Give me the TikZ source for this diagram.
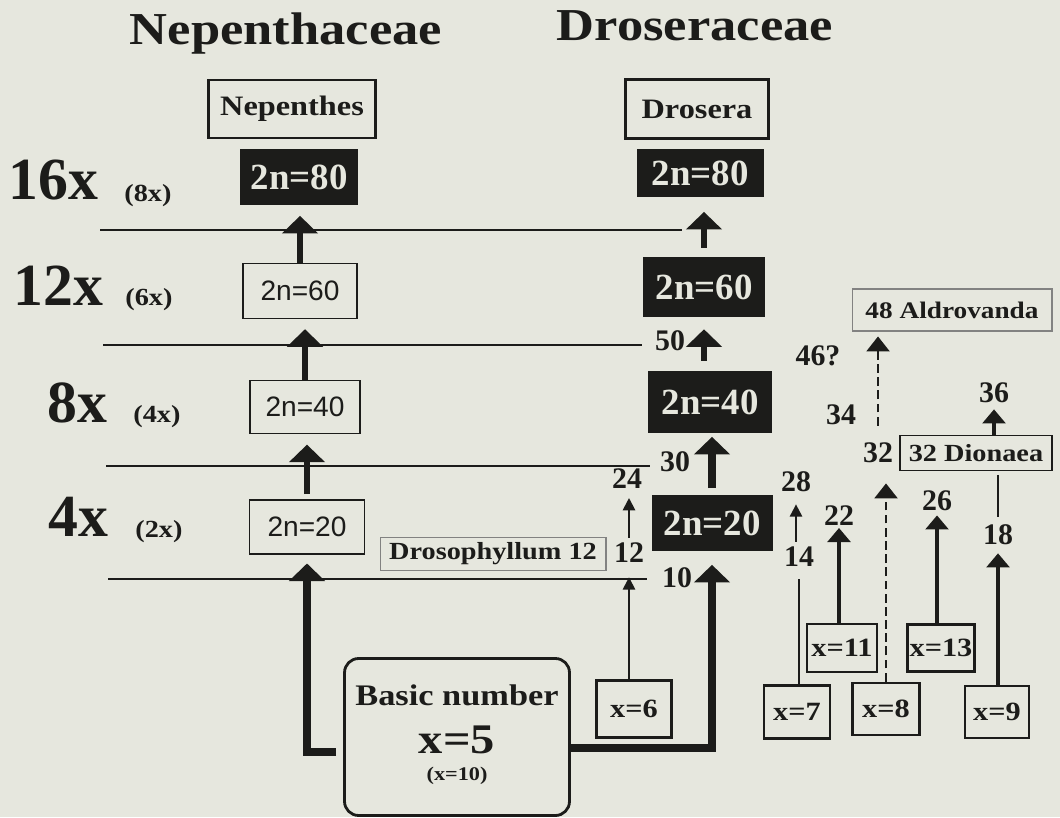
\documentclass[tikz,border=0pt]{standalone}
\usepackage{fontspec}
\setmainfont{Liberation Serif}
\setsansfont{Liberation Sans}
\newfontfamily\widefont{Liberation Serif}[FakeStretch=1.15]
\usepackage{tikz}
\usetikzlibrary{arrows.meta, positioning, calc}
\definecolor{paper}{RGB}{230,231,222}
\definecolor{ink}{RGB}{28,28,26}
\colorlet{boxblk}{ink}

\begin{document}
\begin{tikzpicture}[x=0.02cm, y=-0.02cm, color=ink, line join=miter,
  famtitle/.style={font=\widefont\bfseries\fontsize{26}{28}\selectfont, anchor=base, inner sep=0pt},
  lvl/.style={font=\bfseries\fontsize{34}{34}\selectfont, anchor=base west, inner sep=0pt},
  lvlh/.style={font=\widefont\bfseries\fontsize{14}{14}\selectfont, anchor=base west, inner sep=0pt},
  lvline/.style={line width=1.1pt},
  genbox/.style={draw, line width=1.2pt, inner sep=0pt, font=\widefont\bfseries\fontsize{16}{16}\selectfont},
  blkbox/.style={fill=boxblk, text=paper, inner sep=0pt, font=\bfseries\fontsize{21}{21}\selectfont},
  whtbox/.style={draw, line width=0.8pt, inner sep=0pt, font=\sffamily\fontsize{16}{16}\selectfont},
  taxbox/.style={draw=ink!55, line width=0.6pt, inner sep=0pt, font=\widefont\bfseries\fontsize{14}{14}\selectfont},
  xbox/.style={draw, line width=1.6pt, inner sep=0pt, font=\widefont\bfseries\fontsize{15}{15}\selectfont},
  num/.style={inner sep=0pt, font=\bfseries\fontsize{17}{17}\selectfont},
  fatarr/.style={line width=3.2pt, -{Triangle[width=20pt, length=10pt]}},
  fatterarr/.style={line width=4.2pt, -{Triangle[width=20pt, length=10pt]}},
  midarr/.style={line width=1.8pt, -{Triangle[width=13pt, length=8pt]}},
  thinarr/.style={line width=1.1pt, -{Triangle[width=7pt, length=7pt]}},
  dasharr/.style={line width=1.5pt, dash pattern=on 5pt off 2.5pt, -{Triangle[width=13pt, length=8.5pt]}},
]
  \fill[paper] (0,0) rectangle (1060,817);
  \useasboundingbox (0,0) rectangle (1060,817);

  % --- family names
  \node[famtitle] (famN) at (286,45) {Nepenthaceae};
  \node[famtitle] (famD) at (695,41) {Droseraceae};

  % --- ploidy levels
  \node[lvl]  (lv16)  at (8,200)   {16x};
  \node[lvlh] (lv16h) at (124,202) {(8x)};
  \node[lvl]  (lv12)  at (13,305)  {12x};
  \node[lvlh] (lv12h) at (125,305) {(6x)};
  \node[lvl]  (lv8)   at (47,422)  {8x};
  \node[lvlh] (lv8h)  at (133,422) {(4x)};
  \node[lvl]  (lv4)   at (48,536)  {4x};
  \node[lvlh] (lv4h)  at (135,537) {(2x)};

  % --- level lines
  \draw[lvline] (100,230) -- (682,230);
  \draw[lvline] (103,345) -- (642,345);
  \draw[lvline] (106,466) -- (650,466);
  \draw[lvline] (108,579) -- (647,579);

  % --- Nepenthaceae column
  \node[genbox, minimum width=33.4mm, minimum height=11.7mm] (genN) at (292,109) {Nepenthes};
  \node[blkbox, minimum width=23.6mm, minimum height=11.2mm] (nA80) at (299,177) {2n=80};
  \node[whtbox, minimum width=22.8mm, minimum height=11mm]   (nA60) at (300,291) {2n=60};
  \node[whtbox, minimum width=22mm,   minimum height=10.7mm] (nA40) at (305,407) {2n=40};
  \node[whtbox, minimum width=23mm,   minimum height=10.8mm] (nA20) at (307,527) {2n=20};

  % --- Droseraceae column
  \node[genbox, minimum width=28.6mm, minimum height=11.8mm] (genD) at (697,109) {Drosera};
  \node[blkbox, minimum width=25.4mm, minimum height=9.8mm]  (dA80) at (700,173) {2n=80};
  \node[blkbox, minimum width=24.4mm, minimum height=12mm]   (dA60) at (704,287) {2n=60};
  \node[blkbox, minimum width=24.8mm, minimum height=12.4mm] (dA40) at (710,402) {2n=40};
  \node[blkbox, minimum width=24.2mm, minimum height=11.4mm] (dA20) at (712,523) {2n=20};

  % --- other genera
  \node[taxbox, minimum width=45.2mm, minimum height=6.6mm] (drosoph) at (493,554) {Drosophyllum 12};
  \node[taxbox, font=\widefont\bfseries\fontsize{13.5}{14}\selectfont,
        minimum width=40mm, minimum height=8.4mm] (aldro) at (952,310) {48 Aldrovanda};
  \node[taxbox, draw=ink, line width=1pt, minimum width=30.4mm, minimum height=7mm] (dionaea) at (976,453) {32 Dionaea};

  % --- basic numbers
  \node[draw, line width=1.6pt, rounded corners=8pt, minimum width=45mm, minimum height=31.4mm] (basic) at (457,737) {};
  \node[anchor=base, inner sep=0pt, font=\widefont\bfseries\fontsize{17}{17}\selectfont] (basicA) at (457,705) {Basic number};
  \node[anchor=base, inner sep=0pt, font=\widefont\bfseries\fontsize{24}{24}\selectfont] (basicB) at (457,753) {x=5};
  \node[anchor=base, inner sep=0pt, font=\widefont\bfseries\fontsize{11}{11}\selectfont] (basicC) at (457,780) {(x=10)};
  \node[xbox, minimum width=15mm,   minimum height=11.4mm] (x6)  at (634,709) {x=6};
  \node[xbox, minimum width=13.2mm, minimum height=10.6mm] (x7)  at (797,712) {x=7};
  \node[xbox, minimum width=14mm,   minimum height=9.6mm]  (x11) at (842,648) {x=11};
  \node[xbox, minimum width=13.4mm, minimum height=10.4mm] (x8)  at (886,709) {x=8};
  \node[xbox, minimum width=13.4mm, minimum height=9.4mm]  (x13) at (941,648) {x=13};
  \node[xbox, minimum width=12.8mm, minimum height=10.4mm] (x9)  at (997,712) {x=9};
  \coordinate (lfoot) at (336,752);
  \coordinate (rfoot) at (570,748);

  % --- chromosome numbers
  \foreach \nm/\txt/\px/\py in {n50/50/670/341, n30/30/675/462, n10/10/677/578,
      n12/12/629/553, n24/24/627/479, n28/28/796/482, n14/14/799/557,
      n22/22/839/516, n26/26/937/501, n18/18/998/535, n36/36/994/393,
      n32/32/878/453, n34/34/841/415, n46/46?/818/356}
    \node[num] (\nm) at (\px,\py) {\txt};

  % --- Nepenthes series
  \draw[fatarr, shorten >=6pt] (nA60.north) -- (nA60.north |- nA80.south);
  \draw[fatarr, shorten >=5.7pt] (nA40.north) -- (nA40.north |- nA60.south);
  \draw[fatarr, shorten <=3pt, shorten >=5.8pt] (nA20.north) -- (nA20.north |- nA40.south);
  \draw[fatterarr, shorten >=5pt] (lfoot) -| (nA20.south);

  % --- Drosera series
  \draw[fatarr, shorten <=5pt, shorten >=8pt] (dA60.north) -- (dA60.north |- dA80.south);
  \draw[fatarr, shorten <=5.7pt, shorten >=6.8pt] (dA60.south |- dA40.north) -- (dA60.south);
  \draw[fatterarr, shorten <=3.4pt, shorten >=2pt] (dA20.north) -- (dA20.north |- dA40.south);
  \draw[fatterarr, shorten >=7.4pt] (rfoot) -| (dA20.south);

  % --- other lines
  \draw[thinarr, shorten >=8pt] (x6.north -| n12) -- (n12.south);
  \draw[thinarr, shorten <=2.8pt, shorten >=5pt] (n12.north) -- (n12.north |- n24.south);
  \draw[thinarr, shorten <=2.8pt, shorten >=6.8pt] (n14.north -| n28) -- (n28.south);
  \draw[line width=1.1pt, shorten >=6.8pt] (x7.north -| n14) -- (n14.south);
  \draw[midarr, shorten >=1pt] (x11.north -| n22) -- (n22.south);
  \draw[midarr, shorten >=2.3pt] (x13.north -| n26) -- (n26.south);
  \draw[midarr, shorten >=4.5pt] (x9.north -| n18) -- (n18.south);
  \draw[line width=1.5pt, shorten <=2pt, shorten >=4.5pt] (dionaea.south -| n18) -- (n18.north);
  \draw[midarr, shorten >=3.4pt] (dionaea.north -| n36) -- (n36.south);
  \draw[dasharr, shorten >=11.4pt] (x8.north) -- (x8.north |- n32.south);
  \draw[dasharr, shorten <=9.7pt, shorten >=2.8pt] (n32.north) -- (n32.north |- aldro.south);
\end{tikzpicture}
\end{document}
